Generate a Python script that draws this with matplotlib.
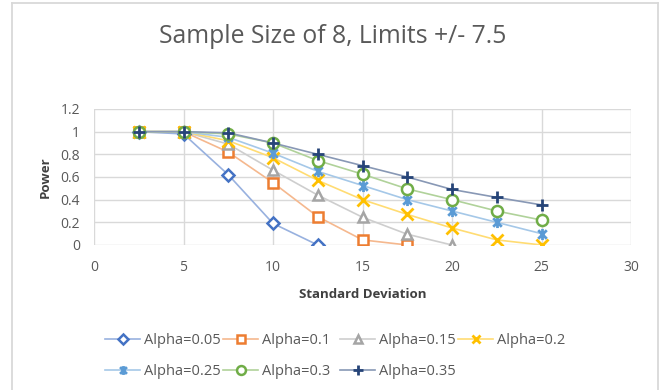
import matplotlib
matplotlib.use("Agg")
import matplotlib.pyplot as plt
from matplotlib.path import Path
from matplotlib.lines import Line2D
import matplotlib.colors as mcolors
import numpy as np

plt.rcParams['font.family'] = ['Open Sans', 'DejaVu Sans']

std_dev = [2.5, 5, 7.5, 10, 12.5, 15, 17.5, 20, 22.5, 25]
series_names = ["Alpha=0.05", "Alpha=0.1", "Alpha=0.15", "Alpha=0.2",
                "Alpha=0.25", "Alpha=0.3", "Alpha=0.35"]
power_005 = [1.0, 0.98, 0.62, 0.19, 0.0]
power_010 = [1.0, 1.0, 0.82, 0.55, 0.25, 0.045, 0.0]
power_015 = [1.0, 1.0, 0.89, 0.66, 0.44, 0.245, 0.095, 0.0]
power_020 = [1.0, 1.0, 0.92, 0.77, 0.57, 0.40, 0.27, 0.15, 0.045, 0.0]
power_025 = [1.0, 1.0, 0.95, 0.81, 0.65, 0.525, 0.40, 0.30, 0.20, 0.10]
power_030 = [1.0, 1.0, 0.98, 0.90, 0.745, 0.625, 0.495, 0.40, 0.30, 0.22]
power_035 = [1.0, 1.0, 0.99, 0.90, 0.80, 0.70, 0.60, 0.49, 0.42, 0.354]
all_power = [power_005, power_010, power_015, power_020, power_025, power_030, power_035]

colors = ["#4472C4", "#ED7D31", "#A5A5A5", "#FFC000", "#5B9BD5", "#70AD47", "#264478"]

# Excel-style star marker: x plus vertical bar
star_verts = [(-1, -1), (1, 1), (-1, 1), (1, -1), (0, -1.3), (0, 1.3)]
star_codes = [Path.MOVETO, Path.LINETO, Path.MOVETO, Path.LINETO, Path.MOVETO, Path.LINETO]
star = Path(star_verts, star_codes)

markers = ['D', 's', '^', 'x', star, 'o', '+']
msizes = [6, 7.5, 7.5, 8, 8, 8, 9]

def lighten(c, f=0.45):
    r, g, b = mcolors.to_rgb(c)
    return (r + (1 - r) * f, g + (1 - g) * f, b + (1 - b) * f)

W, H = 665, 390
fig = plt.figure(figsize=(W / 100, H / 100), dpi=100)
ax = fig.add_axes([94 / W, 1 - 245 / H, (631 - 94) / W, (245 - 109) / H])

handles = []
for name, vals, c, m, ms in zip(series_names, all_power, colors, markers, msizes):
    x = std_dev[:len(vals)]
    lc = lighten(c)
    stroke = m in ('x', '+') or m is star
    ax.plot(x, vals, color=lc, lw=1.2, zorder=2)
    ax.plot(x, vals, ls='none', marker=m, ms=ms, mec=c,
            mfc=('none' if stroke else 'white'), mew=2.0 if stroke else 1.8, zorder=3)
    handles.append(Line2D([], [], color=lc, lw=1.2, marker=m, ms=ms * 0.8, mec=c,
                          mfc=('none' if stroke else 'white'), mew=2.0 if stroke else 1.8))

ax.set_xlim(0, 30)
ax.set_ylim(0, 1.2)
ax.set_xticks(np.arange(0, 31, 5))
ax.set_yticks([0, 0.2, 0.4, 0.6, 0.8, 1.0, 1.2])
ax.set_yticklabels(["0", "0.2", "0.4", "0.6", "0.8", "1", "1.2"])
ax.grid(True, color="#D9D9D9", lw=1)
ax.set_axisbelow(True)
for s in ax.spines.values():
    s.set_visible(False)
ax.tick_params(length=0, labelsize=10, colors="#595959")
ax.tick_params(axis='x', pad=11)
ax.tick_params(axis='y', pad=10)
ax.set_xlabel("Standard Deviation", fontsize=9.5, fontweight='bold', color="#404040", labelpad=9)
ax.set_ylabel("Power", fontsize=9.5, fontweight='bold', color="#404040", labelpad=6.5)

fig.text(0.5, 1 - 43 / H, "Sample Size of 8, Limits +/- 7.5", ha='center', va='baseline',
         fontsize=17.8, color="#595959")

# Excel-like legend: fixed-width columns, entries flowing row by row
col_x = [105, 223, 340, 458]
ncol = 4
for ci, cx in enumerate(col_x):
    idx = [i for i in range(len(series_names)) if i % ncol == ci]
    leg = fig.legend([handles[i] for i in idx], [series_names[i] for i in idx],
                     loc='upper left', bbox_to_anchor=(cx / W, 1 - 333 / H),
                     frameon=False, fontsize=10.5, handlelength=2.4, handletextpad=0.27,
                     labelspacing=1.09, borderpad=0, borderaxespad=0)
    for t in leg.get_texts():
        t.set_color("#595959")

# chart-area frame
fc = "#D9D9D9"
L, R, T = 11.5 / W, 658 / W, 1 - 2.5 / H
fig.add_artist(Line2D([L, L], [0, T], transform=fig.transFigure, color=fc, lw=1.3))
fig.add_artist(Line2D([L, R], [T, T], transform=fig.transFigure, color=fc, lw=1.3))
fig.add_artist(Line2D([R, R], [0, T], transform=fig.transFigure, color=fc, lw=1.3))

fig.savefig("out.png", dpi=100)
